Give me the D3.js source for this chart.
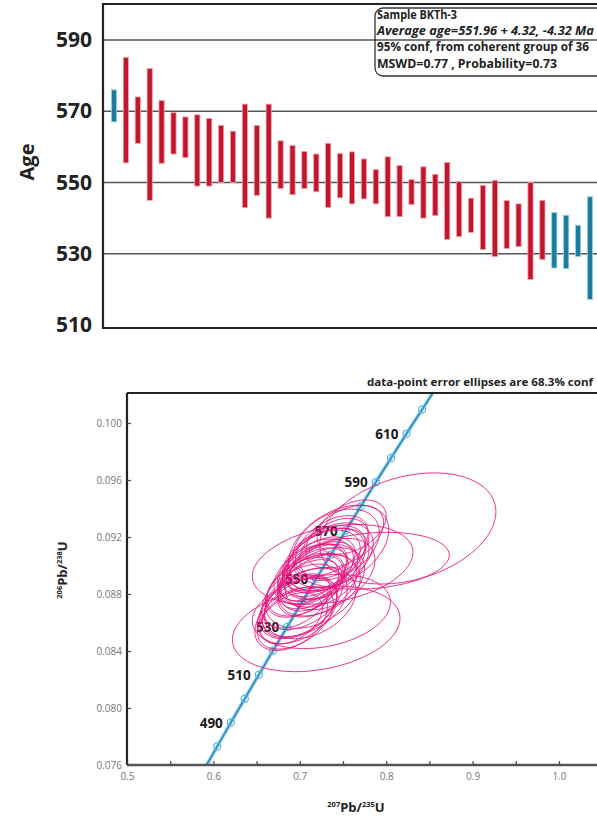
<!DOCTYPE html>
<html lang="en">
<head>
<meta charset="utf-8">
<title>BKTh-3 U-Pb</title>
<script src="https://d3js.org/d3.v7.min.js"></script>
<style>
  body { margin: 0; background: #fff; }
  svg text { font-family: "Open Sans", sans-serif; }
</style>
</head>
<body>
<div id="chart"></div>
<script>
// ---- weighted mean plot (ages in Ma, bar = mean +/- err) ----
const ageMean = [571.5, 570.3, 567.5, 563.5, 564.2, 563.8, 562.7, 559.0, 558.5, 558.0,
  557.2, 557.5, 556.2, 556.0, 555.0, 553.5, 553.5, 552.7, 552.0, 551.9,
  551.3, 551.0, 548.8, 548.8, 547.6, 547.3, 547.2, 546.5, 544.8, 542.5,
  540.8, 540.2, 539.9, 538.2, 538.0, 536.4, 536.7, 533.8, 533.3, 533.6, 531.6];
const ageErr = [4.5, 14.8, 6.5, 18.5, 8.8, 5.8, 5.7, 10.0, 9.5, 8.0,
  7.2, 14.5, 9.8, 16.0, 6.7, 6.9, 5.2, 5.3, 9.0, 6.2,
  7.3, 5.6, 4.8, 8.4, 7.2, 3.5, 7.2, 5.8, 10.8, 7.7,
  4.8, 9.0, 10.7, 6.7, 6.0, 13.6, 8.3, 7.8, 7.5, 4.4, 14.4];
const rejected = [0, 37, 38, 39, 40];
const ageTicks = [510, 530, 550, 570, 590];
const boxLines = ["Sample BKTh-3", "Average age=551.96 + 4.32, -4.32 Ma",
  "95% conf, from coherent group of 36", "MSWD=0.77 , Probability=0.73"];
const boxWidths = [80, 217, 212, 180];

// ---- concordia ----
const concAge = [470, 480, 490, 500, 510, 520, 530, 540, 550, 560, 570, 580, 590, 600, 610, 620, 630];
const concX = [0.5886, 0.6044, 0.6202, 0.6363, 0.6525, 0.6688, 0.6854, 0.7020, 0.7189,
  0.7359, 0.7531, 0.7704, 0.7879, 0.8056, 0.8235, 0.8416, 0.8598];
const concY = [0.07563, 0.07730, 0.07898, 0.08065, 0.08233, 0.08401, 0.08569, 0.08738, 0.08906,
  0.09076, 0.09245, 0.09414, 0.09584, 0.09754, 0.09925, 0.10095, 0.10266];
const concLabels = [490, 510, 530, 550, 570, 590, 610];

// error ellipses (centre, 1 sigma, correlation)
const ellX = [0.760, 0.825, 0.752, 0.745, 0.742, 0.737, 0.740, 0.735, 0.728, 0.731,
  0.726, 0.783, 0.730, 0.738, 0.722, 0.718, 0.727, 0.715, 0.735, 0.712,
  0.724, 0.716, 0.712, 0.725, 0.707, 0.713, 0.720, 0.703, 0.715, 0.703,
  0.697, 0.705, 0.712, 0.698, 0.700, 0.725, 0.697, 0.695, 0.690, 0.690, 0.719];
const ellY = [0.09270, 0.09260, 0.09202, 0.09134, 0.09146, 0.09140, 0.09121, 0.09059, 0.09050, 0.09042,
  0.09028, 0.09033, 0.09011, 0.09008, 0.08991, 0.08966, 0.08966, 0.08952, 0.08940, 0.08939,
  0.08928, 0.08923, 0.08886, 0.08886, 0.08866, 0.08861, 0.08859, 0.08847, 0.08819, 0.08780,
  0.08751, 0.08741, 0.08736, 0.08707, 0.08704, 0.08677, 0.08682, 0.08633, 0.08624, 0.08629, 0.08555];
const ellSx = [0.040, 0.102, 0.045, 0.058, 0.050, 0.042, 0.040, 0.050, 0.048, 0.045,
  0.044, 0.090, 0.050, 0.093, 0.042, 0.044, 0.040, 0.040, 0.052, 0.042,
  0.046, 0.040, 0.038, 0.050, 0.045, 0.036, 0.046, 0.042, 0.055, 0.047,
  0.038, 0.050, 0.053, 0.045, 0.043, 0.080, 0.046, 0.044, 0.042, 0.036, 0.097];
const ellSy = [0.0019, 0.0039, 0.0022, 0.0029, 0.0025, 0.0021, 0.0021, 0.0024, 0.0023, 0.0022,
  0.0022, 0.0020, 0.0025, 0.0028, 0.0021, 0.0022, 0.0020, 0.0020, 0.0025, 0.0021,
  0.0022, 0.0020, 0.0019, 0.0024, 0.0022, 0.0018, 0.0022, 0.0021, 0.0026, 0.0023,
  0.0019, 0.0024, 0.0025, 0.0022, 0.0021, 0.0026, 0.0023, 0.0022, 0.0022, 0.0018, 0.0030];
const ellRho = [0.40, 0.30, 0.45, 0.40, 0.35, 0.45, 0.40, 0.40, 0.45, 0.35,
  0.40, 0.20, 0.40, 0.30, 0.45, 0.40, 0.35, 0.45, 0.40, 0.40,
  0.35, 0.45, 0.40, 0.40, 0.45, 0.35, 0.40, 0.45, 0.35, 0.40,
  0.45, 0.40, 0.35, 0.40, 0.45, 0.25, 0.40, 0.45, 0.40, 0.40, 0.25];

const xTicks = [0.5, 0.6, 0.7, 0.8, 0.9, 1.0];
const xMinor = [0.55, 0.65, 0.75, 0.85, 0.95];
const yTicks = [0.076, 0.080, 0.084, 0.088, 0.092, 0.096, 0.100];

const W = 597, H = 832;
const svg = d3.select("#chart").append("svg")
  .attr("width", W).attr("height", H);

// ================= top panel =================
const topG = svg.append("g");
const yAge = d3.scaleLinear().domain([510, 590]).range([325, 40]);
const xIdx = d3.scalePoint().domain(d3.range(ageMean.length)).range([114, 590]);

// grid lines
topG.append("g").selectAll("line")
  .data(ageTicks.filter(d => d > 510))
  .join("line")
  .attr("x1", 103).attr("x2", W)
  .attr("y1", d => yAge(d)).attr("y2", d => yAge(d))
  .attr("stroke", "#555").attr("stroke-width", 1.3);

// frame
topG.append("path")
  .attr("d", `M${W},4H103V328H${W}`)
  .attr("fill", "none").attr("stroke", "#222").attr("stroke-width", 2.2);

// bars
topG.append("g").selectAll("rect")
  .data(ageMean)
  .join("rect")
  .attr("x", (d, i) => xIdx(i) - 2.6)
  .attr("width", 5.2)
  .attr("y", (d, i) => yAge(d + ageErr[i]))
  .attr("height", (d, i) => yAge(d - ageErr[i]) - yAge(d + ageErr[i]))
  .attr("fill", (d, i) => rejected.includes(i) ? "#1c7c9c" : "#c2162e")
  .attr("stroke", (d, i) => rejected.includes(i) ? "#9fd3e6" : "#f2a0a8")
  .attr("stroke-width", 0.8);

// y labels
const ay = topG.append("g")
  .attr("transform", "translate(103,0)")
  .call(d3.axisLeft(yAge).tickValues(ageTicks).tickSize(0).tickPadding(11).tickFormat(d3.format("d")));
ay.select(".domain").remove();
ay.selectAll("text")
  .attr("font-family", "'Open Sans', sans-serif")
  .attr("font-size", 21).attr("font-weight", 700).attr("fill", "#222");

topG.append("text")
  .attr("transform", "translate(34,162) rotate(-90)")
  .attr("text-anchor", "middle")
  .attr("font-size", 20).attr("font-weight", 700).attr("fill", "#222")
  .text("Age");

// info box
topG.append("rect")
  .attr("x", 375).attr("y", 8).attr("width", 240).attr("height", 68)
  .attr("rx", 8)
  .attr("fill", "none").attr("stroke", "#333").attr("stroke-width", 1.3);
topG.append("g").selectAll("text")
  .data(boxLines)
  .join("text")
  .attr("x", 377)
  .attr("y", (d, i) => 19 + i * 16.2)
  .attr("font-size", 11.5).attr("font-weight", 700).attr("fill", "#222")
  .attr("font-style", (d, i) => i === 1 ? "italic" : null)
  .attr("textLength", (d, i) => boxWidths[i])
  .attr("lengthAdjust", "spacingAndGlyphs")
  .text(d => d);

// ================= bottom panel =================
const bot = svg.append("g");
const x = d3.scaleLinear().domain([0.5, 1.0]).range([127, 559]);
const y = d3.scaleLinear().domain([0.076, 0.100]).range([765, 423]);

bot.append("defs").append("clipPath").attr("id", "plot")
  .append("rect").attr("x", 127).attr("y", 393).attr("width", W - 127).attr("height", 372);

const plot = bot.append("g").attr("clip-path", "url(#plot)");

// concordia curve
const cpts = concAge.map((a, i) => [concX[i], concY[i], a]);
const cline = d3.line().x(d => x(d[0])).y(d => y(d[1])).curve(d3.curveMonotoneX);
plot.append("path").datum(cpts)
  .attr("d", cline).attr("fill", "none")
  .attr("stroke", "#a8dcf2").attr("stroke-width", 4);
plot.append("path").datum(cpts)
  .attr("d", cline).attr("fill", "none")
  .attr("stroke", "#2f8cc0").attr("stroke-width", 1.8);
plot.append("g").selectAll("circle")
  .data(cpts)
  .join("circle")
  .attr("cx", d => x(d[0])).attr("cy", d => y(d[1])).attr("r", 3.6)
  .attr("fill", "none").attr("stroke", "#5ab6df").attr("stroke-width", 1.2);
plot.append("g").selectAll("text")
  .data(cpts.filter(d => concLabels.includes(d[2])))
  .join("text")
  .attr("x", d => x(d[0]) - 8).attr("y", d => y(d[1]) + 5)
  .attr("text-anchor", "end")
  .attr("font-size", 13.5).attr("font-weight", 700).attr("fill", "#1a1a1a")
  .text(d => d[2]);

// ellipses
const ring = d3.range(0, 73).map(k => 2 * Math.PI * k / 72);
const eline = d3.line().curve(d3.curveLinearClosed);
plot.append("g").selectAll("path")
  .data(ellX.map((cx, i) => i))
  .join("path")
  .attr("d", i => eline(ring.map(t => [
    x(ellX[i] + ellSx[i] * Math.cos(t)),
    y(ellY[i] + ellSy[i] * (ellRho[i] * Math.cos(t) + Math.sqrt(1 - ellRho[i] * ellRho[i]) * Math.sin(t)))
  ])))
  .attr("fill", "none").attr("stroke", "#e6127c")
  .attr("stroke-width", 1).attr("stroke-opacity", 0.85);

// frame / axes
bot.append("line").attr("x1", 127).attr("x2", W).attr("y1", 393).attr("y2", 393)
  .attr("stroke", "#222").attr("stroke-width", 2.2);

const axL = bot.append("g").attr("transform", "translate(127,0)")
  .call(d3.axisLeft(y).tickValues(yTicks).tickSizeInner(-4).tickSizeOuter(0).tickPadding(5)
    .tickFormat(d3.format(".3f")));
axL.select(".domain").attr("d", "M0,393V765").attr("stroke", "#222").attr("stroke-width", 2.2);

const axB = bot.append("g").attr("transform", "translate(0,765)")
  .call(d3.axisBottom(x).tickValues(xTicks).tickSizeInner(-4).tickSizeOuter(0).tickPadding(8)
    .tickFormat(d3.format(".1f")));
axB.select(".domain").attr("d", `M127,0H${W}`).attr("stroke", "#555").attr("stroke-width", 2.4);
bot.append("g").attr("transform", "translate(0,765)")
  .call(d3.axisBottom(x).tickValues(xMinor).tickSizeInner(-4).tickSizeOuter(0).tickFormat(""))
  .select(".domain").remove();

bot.selectAll(".tick line").attr("stroke", "#444").attr("stroke-width", 1.2);
bot.selectAll(".tick text")
  .attr("font-family", "'DejaVu Sans', sans-serif")
  .attr("font-size", 10).attr("fill", "#777");

// titles
const ttl = bot.append("text")
  .attr("transform", "translate(67,570) rotate(-90)")
  .attr("text-anchor", "middle")
  .attr("font-size", 13).attr("font-weight", 700).attr("fill", "#222");
ttl.append("tspan").attr("font-size", 7.5).attr("dy", -5).text("206");
ttl.append("tspan").attr("dy", 5).text("Pb/");
ttl.append("tspan").attr("font-size", 7.5).attr("dy", -5).text("238");
ttl.append("tspan").attr("dy", 5).text("U");

const ttlx = bot.append("text")
  .attr("x", 356).attr("y", 812)
  .attr("text-anchor", "middle")
  .attr("font-size", 13).attr("font-weight", 700).attr("fill", "#222");
ttlx.append("tspan").attr("font-size", 7.5).attr("dy", -5).text("207");
ttlx.append("tspan").attr("dy", 5).text("Pb/");
ttlx.append("tspan").attr("font-size", 7.5).attr("dy", -5).text("235");
ttlx.append("tspan").attr("dy", 5).text("U");

bot.append("text")
  .attr("x", 367).attr("y", 386)
  .attr("font-size", 10).attr("font-weight", 700).attr("fill", "#222")
  .attr("textLength", 226).attr("lengthAdjust", "spacingAndGlyphs")
  .text("data-point error ellipses are 68.3% conf");
</script>
</body>
</html>
